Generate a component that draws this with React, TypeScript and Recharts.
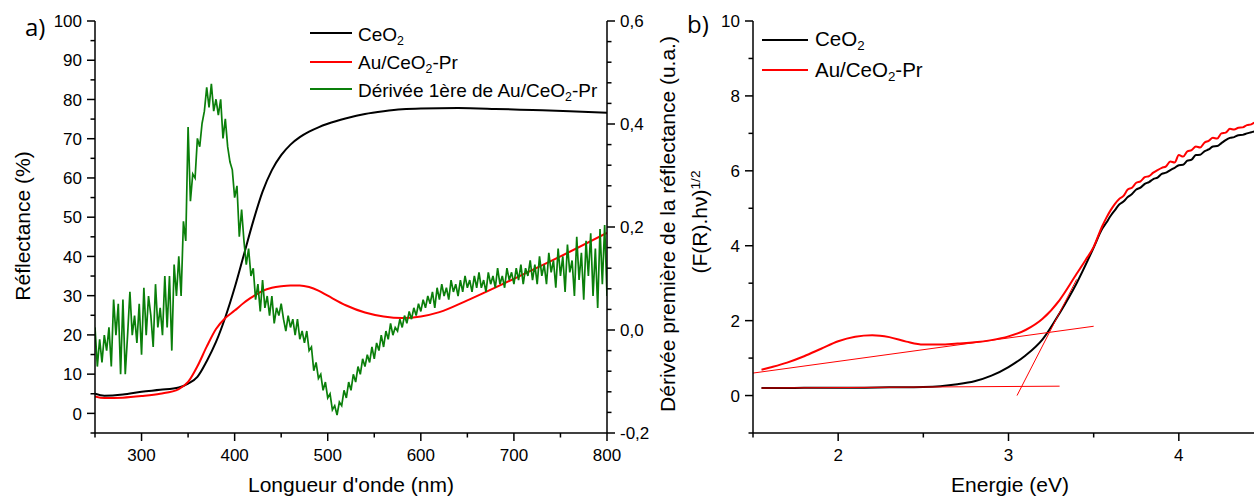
import React from 'react';
import { LineChart, Line, XAxis, YAxis } from 'recharts';

const FONT = '"Liberation Sans", Arial, Helvetica, sans-serif';

// ---------------- Panel a) : reflectance vs wavelength ----------------
const ceo2Wavelength = [250, 260, 280, 300, 320, 340, 350, 360, 370, 380, 390, 400, 410, 420, 430, 440, 450, 460, 470, 480, 490, 500, 520, 540, 560, 580, 600, 640, 680, 720, 760, 800];
const ceo2Reflectance = [5.0, 4.5, 4.8, 5.5, 6.0, 6.6, 7.6, 9.3, 13.3, 18.2, 24.5, 32.0, 40.5, 49.0, 56.5, 62.0, 65.8, 68.5, 70.4, 71.8, 72.9, 73.8, 75.2, 76.3, 77.0, 77.5, 77.7, 77.8, 77.6, 77.3, 77.0, 76.6];

const auWavelength = [250, 260, 280, 300, 320, 340, 350, 360, 370, 380, 390, 400, 410, 420, 430, 440, 450, 460, 470, 480, 490, 500, 520, 540, 560, 580, 600, 620, 650, 700, 750, 800];
const auReflectance = [4.3, 3.9, 4.0, 4.4, 5.0, 6.2, 8.0, 12.0, 17.0, 21.5, 24.3, 26.2, 28.2, 29.8, 31.2, 32.0, 32.4, 32.6, 32.6, 32.2, 31.3, 30.0, 27.5, 25.7, 24.7, 24.3, 24.7, 25.8, 28.8, 34.3, 40.0, 46.0];

// first derivative of Au/CeO2-Pr reflectance, sampled every 2.5 nm from 250 nm
const derivStartNm = 250;
const derivStepNm = 2.5;
const auDerivative = [
  0.005, -0.071, -0.018, -0.063, -0.010, -0.040, 0.005, -0.071, 0.059, -0.010, 0.051, -0.086, 0.059, -0.086, -0.010, 0.074, -0.010, 0.028, -0.025, 0.051, -0.048, 0.082, -0.010, 0.066, 0.028, -0.033, 0.089, 0.005, 0.043, -0.010, 0.105, 0.005, 0.105, -0.040, 0.127, 0.066, 0.143,
  0.066, 0.211, 0.173, 0.394, 0.250, 0.303, 0.295, 0.372, 0.356, 0.401, 0.425, 0.471, 0.432, 0.478, 0.425, 0.448, 0.417, 0.448, 0.372, 0.410, 0.356, 0.326, 0.311, 0.257, 0.280, 0.181, 0.234, 0.173,
  0.127, 0.158, 0.105, 0.120, 0.059, 0.089, 0.036, 0.097, 0.043, 0.066, 0.028, 0.066, 0.013, 0.043, 0.028, 0.051, 0.021, -0.002, 0.028, 0.005, 0.021, -0.010, 0.021, -0.018, -0.002, -0.025, -0.002, -0.040, -0.033, -0.079, -0.063, -0.094, -0.086, -0.117, -0.101, -0.132,
  -0.124, -0.155, -0.147, -0.165, -0.140, -0.147, -0.117, -0.132, -0.101, -0.117, -0.086, -0.101, -0.071, -0.086, -0.056, -0.071, -0.048, -0.063, -0.033, -0.056, -0.025, -0.040, -0.010, -0.033, -0.002, -0.018, 0.013, -0.010, 0.005, -0.002, 0.021, 0.005, 0.028, 0.013, 0.036, 0.021, 0.043, 0.028, 0.051, 0.036,
  0.059, 0.043, 0.066, 0.051, 0.074, 0.043, 0.082, 0.059, 0.089, 0.066, 0.082, 0.059, 0.097, 0.074, 0.089, 0.066, 0.097, 0.074, 0.105, 0.082, 0.097, 0.074, 0.105, 0.082, 0.112, 0.082, 0.097, 0.074, 0.112, 0.089, 0.105, 0.082, 0.120, 0.089, 0.105, 0.082, 0.120, 0.097, 0.112, 0.089,
  0.120, 0.097, 0.127, 0.089, 0.120, 0.105, 0.135, 0.097, 0.127, 0.089, 0.143, 0.105, 0.127, 0.089, 0.150, 0.112, 0.135, 0.082, 0.158, 0.105, 0.143, 0.074, 0.166, 0.112, 0.135, 0.066, 0.181, 0.097, 0.150, 0.059, 0.173, 0.105, 0.188, 0.066, 0.158, 0.043, 0.196, 0.089, 0.204, 0.066,
];

const aXTicks = [250, 300, 350, 400, 450, 500, 550, 600, 650, 700, 750, 800];
const aXMajor = [300, 400, 500, 600, 700, 800];
const aYLeftTicks = [-5, 0, 5, 10, 15, 20, 25, 30, 35, 40, 45, 50, 55, 60, 65, 70, 75, 80, 85, 90, 95, 100];
const aYLeftMajor = [0, 10, 20, 30, 40, 50, 60, 70, 80, 90, 100];
const aYRightTicks = [-0.2, -0.16, -0.12, -0.08, -0.04, 0, 0.04, 0.08, 0.12, 0.16, 0.2, 0.24, 0.28, 0.32, 0.36, 0.4, 0.44, 0.48, 0.52, 0.56, 0.6];
const aYRightMajor = [-0.2, 0, 0.2, 0.4, 0.6];

// ---------------- Panel b) : Kubelka-Munk vs energy ----------------
const ceo2Energy = [1.55, 1.7, 1.9, 2.1, 2.3, 2.5, 2.6, 2.7, 2.8, 2.9, 3.0, 3.1, 3.2, 3.3, 3.4, 3.5,
  3.55, 3.575, 3.6, 3.625, 3.65, 3.675, 3.7, 3.725, 3.75, 3.775, 3.8, 3.825, 3.85, 3.875, 3.9, 3.925, 3.95, 3.975, 4.0, 4.025, 4.05, 4.075, 4.1, 4.125, 4.15, 4.175, 4.2, 4.225, 4.25, 4.275, 4.3, 4.325, 4.35, 4.375, 4.4, 4.425, 4.45, 4.475, 4.5];
const ceo2Kubelka = [0.20, 0.20, 0.21, 0.21, 0.22, 0.23, 0.25, 0.30, 0.38, 0.53, 0.76, 1.07, 1.5, 2.2, 3.0, 3.95,
  4.45, 4.62, 4.8, 4.95, 5.1, 5.18, 5.3, 5.38, 5.5, 5.55, 5.65, 5.7, 5.78, 5.82, 5.92, 5.95, 6.02, 6.08, 6.15, 6.16, 6.27, 6.3, 6.42, 6.43, 6.52, 6.57, 6.65, 6.66, 6.74, 6.82, 6.88, 6.9, 6.95, 6.96, 7.0, 7.03, 7.06, 7.08, 7.12];

const auEnergy = [1.55, 1.6, 1.7, 1.8, 1.9, 2.0, 2.1, 2.2, 2.3, 2.4, 2.5, 2.6, 2.7, 2.8, 2.9, 3.0, 3.1, 3.2, 3.3, 3.4, 3.45, 3.5,
  3.55, 3.575, 3.6, 3.625, 3.65, 3.675, 3.7, 3.725, 3.75, 3.775, 3.8, 3.825, 3.85, 3.875, 3.9, 3.925, 3.95, 3.975, 4.0, 4.025, 4.05, 4.075, 4.1, 4.125, 4.15, 4.175, 4.2, 4.225, 4.25, 4.275, 4.3, 4.325, 4.35, 4.375, 4.4, 4.425, 4.45, 4.475, 4.5];
const auKubelka = [0.69, 0.75, 0.88, 1.05, 1.25, 1.45, 1.57, 1.61, 1.56, 1.44, 1.36, 1.36, 1.39, 1.42, 1.48, 1.58, 1.75, 2.05, 2.55, 3.25, 3.6, 3.97,
  4.52, 4.75, 4.95, 5.12, 5.25, 5.33, 5.5, 5.55, 5.68, 5.72, 5.83, 5.86, 5.95, 6.02, 6.08, 6.12, 6.25, 6.22, 6.42, 6.38, 6.52, 6.55, 6.65, 6.62, 6.75, 6.8, 6.88, 6.86, 7.0, 7.02, 7.12, 7.1, 7.15, 7.16, 7.22, 7.24, 7.3, 7.33, 7.38];

// tangent constructions (thin red lines)
const tangentAuBaseE = [1.5, 3.5];
const tangentAuBaseV = [0.6, 1.85];
const tangentCeO2BaseE = [1.55, 3.3];
const tangentCeO2BaseV = [0.2, 0.25];
const tangentEdgeE = [3.05, 3.4];
const tangentEdgeV = [0.0, 3.1];

const bXTicks = [1.5, 2, 2.5, 3, 3.5, 4, 4.5];
const bXMajor = [2, 3, 4];
const bYTicks = [-1, 0, 1, 2, 3, 4, 5, 6, 7, 8, 9, 10];
const bYMajor = [0, 2, 4, 6, 8, 10];

// ---------------- helpers ----------------
const zip = (xs: number[], ys: number[]) => xs.map((x, i) => ({ x, y: ys[i] }));

const ceo2ReflData = zip(ceo2Wavelength, ceo2Reflectance);
const auReflData = zip(auWavelength, auReflectance);
const derivData = auDerivative.map((y, i) => ({ x: derivStartNm + i * derivStepNm, y }));

const ceo2KmData = zip(ceo2Energy, ceo2Kubelka);
const auKmData = zip(auEnergy, auKubelka);
const tanAuData = zip(tangentAuBaseE, tangentAuBaseV);
const tanCeData = zip(tangentCeO2BaseE, tangentCeO2BaseV);
const tanEdgeData = zip(tangentEdgeE, tangentEdgeV);

type Side = 'left' | 'right' | 'bottom';

function makeTick(side: Side, majors: number[], fmt: (v: number) => string, style: React.CSSProperties) {
  return (props: any) => {
    const { x, y, payload } = props;
    const v = Number(payload?.value);
    const major = majors.some((m) => Math.abs(m - v) < 1e-6);
    const len = major ? 8 : 4.5;
    if (side === 'bottom') {
      return (
        <g>
          <line x1={x} y1={y} x2={x} y2={y + len} stroke="#000" strokeWidth={1.5} />
          {major && (
            <text x={x} y={y + 28} textAnchor="middle" style={style}>
              {fmt(v)}
            </text>
          )}
        </g>
      );
    }
    if (side === 'left') {
      return (
        <g>
          <line x1={x - len} y1={y} x2={x} y2={y} stroke="#000" strokeWidth={1.5} />
          {major && (
            <text x={x - 13} y={y} dy="0.36em" textAnchor="end" style={style}>
              {fmt(v)}
            </text>
          )}
        </g>
      );
    }
    return (
      <g>
        <line x1={x} y1={y} x2={x + len} y2={y} stroke="#000" strokeWidth={1.5} />
        {major && (
          <text x={x + 13} y={y} dy="0.36em" textAnchor="start" style={style}>
            {fmt(v)}
          </text>
        )}
      </g>
    );
  };
}

const tickFontA: React.CSSProperties = { fontFamily: FONT, fontSize: 17, fill: '#000' };
const tickFontB: React.CSSProperties = { fontFamily: FONT, fontSize: 17, fill: '#000' };
const axisLine = { stroke: '#000', strokeWidth: 1.5 };

const intFmt = (v: number) => String(Math.round(v));
const commaFmt = (v: number) => v.toFixed(1).replace('.', ',');

const Sub = ({ children }: { children: React.ReactNode }) => (
  <span style={{ fontSize: '0.65em', position: 'relative', top: '0.3em' }}>{children}</span>
);

const abs = (s: React.CSSProperties): React.CSSProperties => ({ position: 'absolute', lineHeight: 1, whiteSpace: 'nowrap', fontFamily: FONT, color: '#000', ...s });

const LegendLine = ({ left, top, width, color }: { left: number; top: number; width: number; color: string }) => (
  <div style={{ position: 'absolute', left, top: top - 1, width, height: 2, background: color }} />
);

export default function App() {
  return (
    <div style={{ position: 'fixed', left: 0, top: 0, width: 1254, height: 497, overflow: 'hidden', background: '#fff' }}>
      {/* Panel a */}
      <div style={{ position: 'absolute', left: 0, top: 0 }}>
        <LineChart width={660} height={497} margin={{ top: 21, right: 0, bottom: 0, left: 0 }}>
          <XAxis xAxisId="bottom" dataKey="x" type="number" domain={[250, 800]} ticks={aXTicks} interval={0} height={64}
            tickSize={0} tickMargin={0} tickLine={false} axisLine={axisLine} allowDataOverflow
            tick={makeTick('bottom', aXMajor, intFmt, tickFontA)} />
          <XAxis xAxisId="top" orientation="top" dataKey="x" type="number" domain={[250, 800]} height={0}
            tick={false} tickLine={false} axisLine={axisLine} allowDataOverflow />
          <YAxis yAxisId="left" type="number" domain={[-5, 100]} ticks={aYLeftTicks} interval={0} width={95}
            tickSize={0} tickMargin={0} tickLine={false} axisLine={axisLine} allowDataOverflow
            tick={makeTick('left', aYLeftMajor, intFmt, tickFontA)} />
          <YAxis yAxisId="right" orientation="right" type="number" domain={[-0.2, 0.6]} ticks={aYRightTicks} interval={0} width={53}
            tickSize={0} tickMargin={0} tickLine={false} axisLine={axisLine} allowDataOverflow
            tick={makeTick('right', aYRightMajor, commaFmt, tickFontA)} />
          <Line xAxisId="bottom" yAxisId="left" data={ceo2ReflData} dataKey="y" type="monotone" stroke="#000" strokeWidth={2}
            dot={false} activeDot={false} isAnimationActive={false} />
          <Line xAxisId="bottom" yAxisId="left" data={auReflData} dataKey="y" type="monotone" stroke="#ff0000" strokeWidth={2}
            dot={false} activeDot={false} isAnimationActive={false} />
          <Line xAxisId="bottom" yAxisId="right" data={derivData} dataKey="y" type="linear" stroke="#0a7f0a" strokeWidth={1.7}
            dot={false} activeDot={false} isAnimationActive={false} />
        </LineChart>
      </div>

      {/* Panel b */}
      <div style={{ position: 'absolute', left: 680, top: 0 }}>
        <LineChart width={590} height={497} margin={{ top: 21, right: 6, bottom: 0, left: 0 }}>
          <XAxis xAxisId="bottom" dataKey="x" type="number" domain={[1.5, 4.5]} ticks={bXTicks} interval={0} height={64}
            tickSize={0} tickMargin={0} tickLine={false} axisLine={axisLine} allowDataOverflow
            tick={makeTick('bottom', bXMajor, intFmt, tickFontB)} />
          <XAxis xAxisId="top" orientation="top" dataKey="x" type="number" domain={[1.5, 4.5]} height={0}
            tick={false} tickLine={false} axisLine={axisLine} allowDataOverflow />
          <YAxis yAxisId="left" type="number" domain={[-1, 10]} ticks={bYTicks} interval={0} width={73}
            tickSize={0} tickMargin={0} tickLine={false} axisLine={axisLine} allowDataOverflow
            tick={makeTick('left', bYMajor, intFmt, tickFontB)} />
          <Line xAxisId="bottom" yAxisId="left" data={ceo2KmData} dataKey="y" type="monotone" stroke="#000" strokeWidth={2}
            dot={false} activeDot={false} isAnimationActive={false} />
          <Line xAxisId="bottom" yAxisId="left" data={auKmData} dataKey="y" type="monotone" stroke="#ff0000" strokeWidth={2}
            dot={false} activeDot={false} isAnimationActive={false} />
          <Line xAxisId="bottom" yAxisId="left" data={tanAuData} dataKey="y" type="linear" stroke="#ff0000" strokeWidth={1}
            dot={false} activeDot={false} isAnimationActive={false} />
          <Line xAxisId="bottom" yAxisId="left" data={tanCeData} dataKey="y" type="linear" stroke="#ff0000" strokeWidth={1}
            dot={false} activeDot={false} isAnimationActive={false} />
          <Line xAxisId="bottom" yAxisId="left" data={tanEdgeData} dataKey="y" type="linear" stroke="#ff0000" strokeWidth={1}
            dot={false} activeDot={false} isAnimationActive={false} />
        </LineChart>
      </div>

      {/* panel labels */}
      <div style={abs({ left: 25, top: 15, fontSize: 24, fontFamily: '"Open Sans", sans-serif' })}>a)</div>
      <div style={abs({ left: 687, top: 12, fontSize: 24, fontFamily: '"Open Sans", sans-serif' })}>b)</div>

      {/* axis titles panel a */}
      <div style={abs({ left: 22, top: 226, fontSize: 21, transform: 'translate(-50%, -50%) rotate(-90deg)' })}>Réflectance (%)</div>
      <div style={abs({ left: 351, top: 474, fontSize: 21, transform: 'translateX(-50%)' })}>Longueur d'onde (nm)</div>
      <div style={abs({ left: 667, top: 224, fontSize: 21, transform: 'translate(-50%, -50%) rotate(-90deg)' })}>Dérivée première de la réflectance (u.a.)</div>

      {/* axis titles panel b */}
      <div style={abs({ left: 699, top: 222, fontSize: 21, transform: 'translate(-50%, -50%) rotate(-90deg)' })}>
        (F(R).hν)<span style={{ fontSize: '0.65em', position: 'relative', top: '-0.55em' }}>1/2</span>
      </div>
      <div style={abs({ left: 1010, top: 474, fontSize: 21, transform: 'translateX(-50%)' })}>Energie (eV)</div>

      {/* legend panel a */}
      <LegendLine left={310} top={33} width={42} color="#000" />
      <LegendLine left={310} top={62} width={42} color="#ff0000" />
      <LegendLine left={310} top={89} width={42} color="#0a7f0a" />
      <div style={abs({ left: 358, top: 25, fontSize: 19 })}>CeO<Sub>2</Sub></div>
      <div style={abs({ left: 358, top: 53, fontSize: 19 })}>Au/CeO<Sub>2</Sub>-Pr</div>
      <div style={abs({ left: 358, top: 81, fontSize: 19 })}>Dérivée 1ère de Au/CeO<Sub>2</Sub>-Pr</div>

      {/* legend panel b */}
      <LegendLine left={762} top={40} width={46} color="#000" />
      <LegendLine left={762} top={70} width={46} color="#ff0000" />
      <div style={abs({ left: 815, top: 29, fontSize: 20.5 })}>CeO<Sub>2</Sub></div>
      <div style={abs({ left: 815, top: 60, fontSize: 20.5 })}>Au/CeO<Sub>2</Sub>-Pr</div>
    </div>
  );
}
